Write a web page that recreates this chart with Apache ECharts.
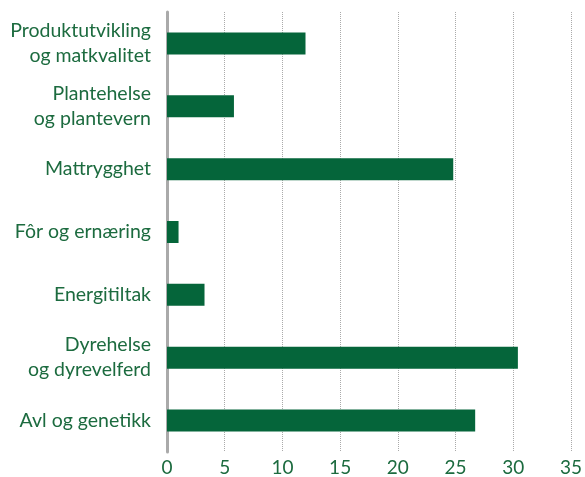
<!DOCTYPE html>
<html>
<head>
<meta charset="utf-8">
<script src="https://cdn.jsdelivr.net/npm/echarts@6/dist/echarts.min.js"></script>
<style>
  html, body { margin: 0; padding: 0; background: #fff; }
  #chart { width: 585px; height: 477px; }
</style>
</head>
<body>
<div id="chart"></div>
<script>
// categories, top to bottom
const categories = [
    'Produktutvikling\nog matkvalitet',
    'Plantehelse\nog plantevern',
    'Mattrygghet',
    'Fôr og ernæring',
    'Energitiltak',
    'Dyrehelse\nog dyrevelferd',
    'Avl og genetikk'
];
const values = [12.0, 5.8, 24.8, 1.0, 3.25, 30.4, 26.7];
const xTicks = [0, 5, 10, 15, 20, 25, 30, 35];

const green = '#05653a';
const textGreen = '#1c6b3f';

const chart = echarts.init(document.getElementById('chart'), null, { renderer: 'canvas' });

const option = {
    animation: false,
    grid: {
        left: 167,
        right: 10,
        top: 12,
        bottom: 24,
        containLabel: false
    },
    xAxis: {
        type: 'value',
        min: xTicks[0],
        max: xTicks[xTicks.length - 1],
        interval: 5,
        axisLine: { show: false },
        axisTick: { show: false },
        axisLabel: {
            color: textGreen,
            fontSize: 19,
            fontFamily: 'Lato',
            margin: 6
        },
        splitLine: {
            show: true,
            lineStyle: { color: '#aaaaaa', type: 'dotted', width: 1 }
        }
    },
    yAxis: {
        type: 'category',
        data: categories,
        inverse: true,
        axisLine: { show: true, lineStyle: { color: '#aaaaaa', width: 3 } },
        axisTick: { show: false },
        axisLabel: {
            color: textGreen,
            fontSize: 19.5,
            fontFamily: 'Lato',
            lineHeight: 25,
            align: 'right',
            margin: 16
        }
    },
    series: [
        {
            type: 'bar',
            data: values,
            barWidth: 22,
            itemStyle: { color: green },
            silent: true
        }
    ]
};

chart.setOption(option);
</script>
</body>
</html>
